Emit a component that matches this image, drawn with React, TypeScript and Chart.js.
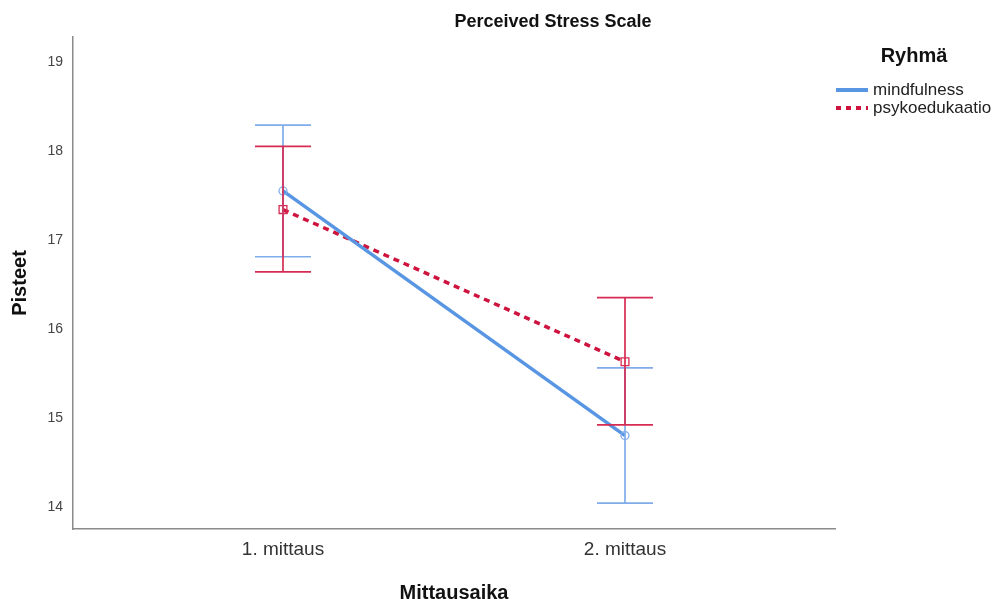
import React, { useEffect, useRef } from "react";
import { Chart, registerables } from "chart.js";

Chart.register(...registerables);

const categories = ["1. mittaus", "2. mittaus"];
const categoryPositions = [1, 2];
const yTicks = [14, 15, 16, 17, 18, 19];

const mindfulnessMean = [17.55, 14.8];
const mindfulnessLow = [16.81, 14.04];
const mindfulnessHigh = [18.29, 15.56];

const psykoMean = [17.34, 15.63];
const psykoLow = [16.64, 14.92];
const psykoHigh = [18.05, 16.35];

const seriesNames = ["mindfulness", "psykoedukaatio"];
const chartTitle = "Perceived Stress Scale";
const legendTitle = "Ryhmä";
const yTitle = "Pisteet";
const xTitle = "Mittausaika";

const BLUE = "rgb(88,150,228)";
const BLUE_ERR = "rgb(128,172,234)";
const RED = "rgb(206,20,62)";
const RED_ERR = "rgb(214,44,84)";
const FONT = "'Liberation Sans', Arial, sans-serif";

const errorBarPlugin = {
  id: "errorBars",
  afterDatasetsDraw(chart: any) {
    const ctx = chart.ctx;
    const x = chart.scales.x;
    const y = chart.scales.y;
    const sets = [
      { low: mindfulnessLow, high: mindfulnessHigh, color: BLUE_ERR },
      { low: psykoLow, high: psykoHigh, color: RED_ERR },
    ];
    ctx.save();
    ctx.lineWidth = 1.7;
    for (const s of sets) {
      ctx.strokeStyle = s.color;
      categoryPositions.forEach((c, i) => {
        const px = x.getPixelForValue(c);
        const pl = y.getPixelForValue(s.low[i]);
        const ph = y.getPixelForValue(s.high[i]);
        const w = 28;
        ctx.beginPath();
        ctx.moveTo(px, pl);
        ctx.lineTo(px, ph);
        ctx.moveTo(px - w, pl);
        ctx.lineTo(px + w, pl);
        ctx.moveTo(px - w, ph);
        ctx.lineTo(px + w, ph);
        ctx.stroke();
      });
    }
    ctx.restore();
  },
};

const textPlugin = {
  id: "texts",
  afterDraw(chart: any) {
    const ctx = chart.ctx;
    ctx.save();
    ctx.fillStyle = "#111";
    ctx.textBaseline = "middle";
    ctx.textAlign = "center";
    ctx.font = `bold 18px ${FONT}`;
    ctx.fillText(chartTitle, 553, 22);
    ctx.font = `bold 20px ${FONT}`;
    ctx.fillText(legendTitle, 914, 56);
    // legend entries
    ctx.textAlign = "left";
    ctx.font = `17px ${FONT}`;
    ctx.fillStyle = "#222";
    ctx.lineCap = "butt";
    ctx.strokeStyle = BLUE;
    ctx.lineWidth = 4;
    ctx.beginPath();
    ctx.moveTo(836, 90);
    ctx.lineTo(868, 90);
    ctx.stroke();
    ctx.fillText(seriesNames[0], 873, 90);
    ctx.strokeStyle = RED;
    ctx.setLineDash([5, 5]);
    ctx.beginPath();
    ctx.moveTo(836, 108);
    ctx.lineTo(868, 108);
    ctx.stroke();
    ctx.setLineDash([]);
    ctx.fillText(seriesNames[1], 873, 108);
    ctx.restore();
  },
};

export default function App() {
  const ref = useRef<HTMLCanvasElement | null>(null);
  useEffect(() => {
    if (!ref.current) return;
    const chart = new Chart(ref.current, {
      type: "line",
      data: {
        datasets: [
          {
            label: seriesNames[0],
            data: categoryPositions.map((c, i) => ({ x: c, y: mindfulnessMean[i] })),
            borderColor: BLUE,
            borderWidth: 3.5,
            pointStyle: "circle",
            pointRadius: 4,
            pointBorderWidth: 1.3,
            pointBorderColor: BLUE_ERR,
            pointBackgroundColor: "rgba(255,255,255,0)",
            fill: false,
            tension: 0,
          },
          {
            label: seriesNames[1],
            data: categoryPositions.map((c, i) => ({ x: c, y: psykoMean[i] })),
            borderColor: RED,
            borderWidth: 3.5,
            borderDash: [6, 5],
            pointStyle: "rect",
            pointRadius: 5.5,
            pointBorderWidth: 1.3,
            pointBorderColor: RED_ERR,
            pointBackgroundColor: "rgba(255,255,255,0)",
            fill: false,
            tension: 0,
          },
        ],
      },
      options: {
        animation: false,
        responsive: false,
        maintainAspectRatio: false,
        layout: { padding: { top: 37, right: 163, left: 0, bottom: 0 } },
        plugins: {
          legend: { display: false },
          title: { display: false },
          tooltip: { enabled: false },
        },
        scales: {
          x: {
            type: "linear",
            min: 0.386,
            max: 2.614,
            afterFit: (s: any) => {
              s.height = 70;
            },
            afterBuildTicks: (s: any) => {
              s.ticks = categoryPositions.map((v) => ({ value: v }));
            },
            grid: { display: false, drawTicks: false },
            border: { display: true, color: "#8a8a8a", width: 1.5 },
            ticks: {
              padding: 9,
              color: "#333",
              font: { family: FONT, size: 19 },
              maxRotation: 0,
              autoSkip: false,
              callback: (v: any) => {
                const idx = categoryPositions.indexOf(Number(v));
                return idx >= 0 ? categories[idx] : "";
              },
            },
            title: {
              display: true,
              text: xTitle,
              color: "#111",
              font: { family: FONT, size: 20, weight: "bold", lineHeight: 1 },
              padding: { top: 0, bottom: -4 },
            },
          },
          y: {
            type: "linear",
            min: 13.75,
            max: 19.28,
            afterFit: (s: any) => {
              s.width = 73;
            },
            afterBuildTicks: (s: any) => {
              s.ticks = yTicks.map((v) => ({ value: v }));
            },
            grid: { display: false, drawTicks: false },
            border: { display: true, color: "#8a8a8a", width: 1.5 },
            ticks: {
              padding: 10,
              color: "#444",
              font: { family: FONT, size: 14 },
            },
            title: {
              display: true,
              text: yTitle,
              color: "#111",
              font: { family: FONT, size: 20, weight: "bold", lineHeight: 1 },
              padding: { top: 10, bottom: 0 },
            },
          },
        },
      },
      plugins: [errorBarPlugin, textPlugin],
    } as any);
    return () => chart.destroy();
  }, []);
  return (
    <div style={{ position: "absolute", left: 0, top: 0, width: 998, height: 599, background: "#fff" }}>
      <canvas ref={ref} width={998} height={599} style={{ width: 998, height: 599 }} />
    </div>
  );
}
